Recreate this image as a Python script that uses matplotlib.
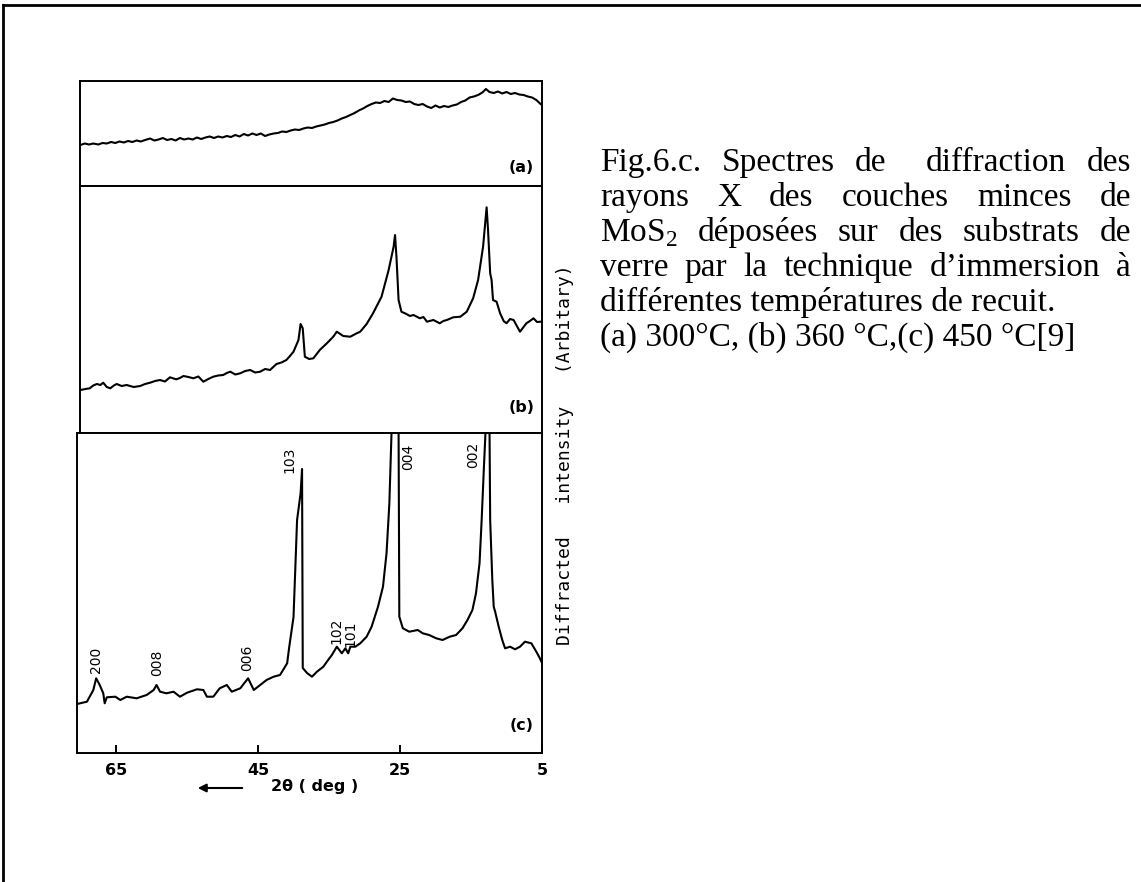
import matplotlib
matplotlib.use("Agg")
import matplotlib.pyplot as plt
from matplotlib.lines import Line2D
from matplotlib.patches import FancyArrowPatch

# --- DATA (2theta in deg, intensity in arbitrary units) ---
tt_a = [70.0, 69.4, 68.8, 68.2, 67.5, 66.9, 66.3, 65.7, 65.1, 64.5, 63.9, 63.3, 62.7, 62.1,
        61.5, 60.9, 60.2, 59.6, 59.0, 58.4, 57.8, 57.2, 56.6, 56.0, 55.4, 54.8, 54.2, 53.6,
        53.0, 52.4, 51.8, 51.2, 50.6, 50.0, 49.4, 48.8, 48.2, 47.6, 47.0, 46.4, 45.8, 45.2,
        44.6, 44.0, 43.4, 42.8, 42.2, 41.6, 41.0, 40.4, 39.8, 39.2, 38.6, 38.0, 37.4, 36.8,
        36.2, 35.6, 35.0, 34.4, 33.8, 33.2, 32.6, 32.0, 31.4, 30.8, 30.2, 29.6, 29.0, 28.4,
        27.8, 27.2, 26.6, 26.0, 25.4, 24.8, 24.2, 23.6, 23.0, 22.4, 21.8, 21.2, 20.6, 20.0,
        19.4, 18.8, 18.2, 17.6, 17.0, 16.4, 15.8, 15.2, 14.6, 14.0, 13.4, 12.9, 12.4, 11.8,
        11.2, 10.6, 10.0, 9.4, 8.8, 8.2, 7.6, 7.0, 6.4, 5.8, 5.2]
int_a = [41, 42.5, 41.5, 42.5, 41.5, 43, 42.5, 44, 43, 44.5, 43.5, 45, 44, 45.5,
         44.5, 46, 47.5, 45.5, 46.5, 48, 46, 47, 45.5, 48, 46.5, 47.5, 46.5, 48.5,
         47, 48.5, 49.5, 48, 49.5, 48.5, 50, 49, 51, 49.5, 52, 50.5, 52.5, 51,
         52.5, 50, 51.5, 52.5, 53, 54.5, 54, 55.5, 56.5, 56, 57.5, 58.5, 58, 59.5,
         60.5, 61.5, 63, 64, 65.5, 67.5, 69, 71, 73, 75.5, 77.5, 80, 82, 83.5,
         83, 85, 84, 87.5, 86, 85.5, 84, 84.5, 82, 81, 82, 79.5, 78, 80.5,
         78.5, 80, 79, 80.5, 81.5, 84, 85.5, 88.5, 89.5, 91, 93.5, 97, 94, 93,
         94.5, 92.5, 94, 92, 93, 91.5, 91, 89.5, 88.5, 86, 82]

tt_b = [70.0, 69.3, 68.7, 68.2, 67.7, 67.2, 66.8, 66.3, 65.8, 65.3, 64.9, 64.2, 63.5, 62.5,
        61.6, 60.9, 60.2, 59.5, 58.8, 58.1, 57.4, 56.9, 56.5, 56.0, 55.5, 54.8, 54.1, 53.4,
        52.7, 52.0, 51.3, 50.6, 49.9, 49.4, 48.9, 48.2, 47.5, 46.8, 46.1, 45.4, 44.7, 44.0,
        43.3, 42.4, 41.7, 41.0, 40.5, 40.0, 39.3, 39.0, 38.7, 38.4, 37.8, 37.2, 36.3, 35.3,
        34.4, 33.9, 33.0, 32.0, 31.1, 30.6, 29.7, 28.8, 27.6, 26.6, 25.9, 25.7, 25.5, 25.2,
        24.8, 24.1, 23.6, 23.1, 22.2, 21.7, 21.2, 20.3, 19.4, 18.9, 18.4, 17.5, 16.5, 15.6,
        14.7, 14.0, 13.3, 12.8, 12.6, 12.3, 12.1, 11.9, 11.4, 10.9, 10.4, 10.0, 9.5, 9.0,
        8.1, 7.6, 7.2, 6.7, 6.2, 5.7, 5.2]
int_b = [43, 44, 44.7, 47.5, 49, 48, 50.3, 46, 44.7, 47.5, 49, 47, 48, 46,
         47, 49, 50.3, 52, 53, 51.5, 55.7, 54.5, 53.7, 55, 57, 56, 54.7, 56.5,
         51.3, 54, 56.3, 57.5, 58, 60, 61.3, 58.5, 59.7, 62, 63, 60.5, 61.3, 64,
         63, 69, 70.5, 73, 77, 81.3, 93, 109, 104.7, 76.3, 74, 74.7, 83, 89.7,
         96.3, 101.3, 97, 96.3, 99.7, 101.3, 109, 119.7, 136.3, 163, 186.3, 198, 176.3, 133,
         121.3, 119, 117, 118, 114.7, 116, 111.3, 113, 109.7, 112, 113, 115.7, 116.3, 121.3,
         134.7, 153, 186.3, 225.7, 203, 159.7, 153, 133, 131.3, 119.7, 112, 109.7, 114, 113,
         101.3, 106, 109.7, 112, 114.7, 111, 111.3]

tt_c = [70.5, 69.1, 68.2, 67.8, 67.3, 66.8, 66.6, 66.3, 65.1, 64.4, 63.5, 62.1, 60.7, 59.7,
        59.3, 58.8, 57.9, 56.9, 56.0, 55.0, 53.6, 52.7, 52.2, 51.3, 50.4, 49.4, 48.7, 47.5,
        46.4, 45.6, 44.7, 43.8, 42.8, 41.9, 40.9, 40.6, 40.0, 39.5, 39.0, 38.8, 38.7, 38.1,
        37.4, 36.7, 35.8, 35.3, 34.6, 33.9, 33.2, 32.7, 32.3, 32.0, 31.3, 30.6, 29.7, 29.0,
        28.1, 27.4, 26.9, 26.5, 26.2, 26.0, 25.3, 25.2, 25.1, 24.6, 23.7, 22.5, 21.8, 20.9,
        19.9, 19.0, 18.0, 17.1, 16.2, 15.5, 14.8, 14.3, 13.8, 13.5, 13.2, 12.9, 12.8, 12.5,
        12.4, 12.3, 12.0, 11.8, 11.6, 11.1, 10.6, 10.2, 9.5, 8.8, 8.1, 7.4, 6.5, 5.8,
        5.3, 5.0]
int_c = [49, 51.3, 63, 74.7, 68, 59.7, 49.7, 55.7, 56.3, 53, 56.3, 54.7, 58, 63,
         68, 61.3, 59.7, 61.3, 56.3, 60.3, 63.7, 63, 56.3, 56.3, 64.7, 68, 61.3, 64.7,
         74.7, 63, 68, 73, 76.3, 78, 89.7, 106.3, 136, 233, 260, 284, 85, 80,
         76.3, 81.3, 86.3, 91.3, 98, 106.3, 99.7, 104.7, 99.7, 106.3, 106.3, 109.7, 116.3, 126.3,
         146.3, 166.3, 199.7, 249.7, 319.7, 400, 400, 320, 136.3, 124.7, 121.3, 123, 119.7, 118,
         114.7, 113, 116.3, 118, 124.7, 133, 143, 159.7, 189.7, 233, 283, 330, 400, 400,
         330, 233, 173, 146.3, 141.3, 126.3, 113, 104.7, 106.3, 103.7, 106.3, 111.3, 109.7, 101.3,
         94.7, 90]

peak_labels = ['200', '008', '006', '103', '102', '101', '004', '002']
peak_tt = [67.8, 59.2, 46.5, 40.6, 33.9, 32.0, 23.9, 14.7]
peak_int = [93, 90, 95, 293, 122, 119, 296, 298]

xticks = [65, 45, 25, 5]

caption_lines = [
    "Fig.6.c. Spectres de  diffraction des",
    "rayons X des couches minces de",
    "MoS$_2$ déposées sur des substrats de",
    "verre par la technique d’immersion à",
    "différentes températures de recuit.",
    "(a) 300°C, (b) 360 °C,(c) 450 °C[9]",
]
justify = [True, True, True, True, False, False]

plt.rcParams['mathtext.fontset'] = 'custom'
plt.rcParams['mathtext.rm'] = 'Liberation Serif'

W, H = 1141, 882
fig = plt.figure(figsize=(W / 100, H / 100), dpi=100)


def px_axes(left, top, right, bottom):
    return fig.add_axes([left / W, 1 - bottom / H, (right - left) / W, (bottom - top) / H])


ax_a = px_axes(80, 81, 542, 186)
ax_b = px_axes(80, 186, 542, 433)
ax_c = px_axes(77, 433, 542, 753)

for ax, tt, it, ymax, lab, lab_y in [(ax_a, tt_a, int_a, 105, '(a)', 19),
                                     (ax_b, tt_b, int_b, 247, '(b)', 26),
                                     (ax_c, tt_c, int_c, 320, '(c)', 28)]:
    ax.plot(tt, it, color='black', lw=1.5)
    ax.set_ylim(0, ymax)
    ax.set_yticks([])
    for s in ax.spines.values():
        s.set_linewidth(1.4)
    ax.text(7.9, lab_y, lab, fontsize=11.5, fontweight='bold', ha='center', va='center')

ax_a.set_xlim(70.07, 5)
ax_b.set_xlim(70.07, 5)
ax_a.set_xticks([])
ax_b.set_xticks([])

ax_c.set_xlim(70.5, 5)
ax_c.set_xticks(xticks)
ax_c.set_xticklabels([str(t) for t in xticks], fontweight='bold')
ax_c.tick_params(axis='x', direction='in', length=6, width=1.4, labelsize=11.5, pad=7)

for lab, x, y in zip(peak_labels, peak_tt, peak_int):
    ax_c.text(x, y, lab, rotation=90, fontsize=10, ha='center', va='center')

# x label with arrow
fig.text(315 / W, 1 - 786 / H, '2θ ( deg )', fontsize=11.5, fontweight='bold',
         ha='center', va='center')
fig.add_artist(FancyArrowPatch(
    (245 / W, 1 - 788 / H), (195 / W, 1 - 788 / H), transform=fig.transFigure,
    arrowstyle='-|>', mutation_scale=12, lw=1.5, color='black'))

# y label
fig.text(565 / W, 1 - 455 / H, 'Diffracted   intensity   (Arbitary)', rotation=90,
         family='DejaVu Sans Mono', fontsize=13, ha='center', va='center')

# outer frame (top and left only)
fig.add_artist(Line2D([3 / W, 1], [1 - 5 / H, 1 - 5 / H], transform=fig.transFigure,
                      color='black', lw=2))
fig.add_artist(Line2D([3 / W, 3 / W], [0, 1 - 5 / H], transform=fig.transFigure,
                      color='black', lw=2))

# caption, justified like the document text
renderer = fig.canvas.get_renderer()
x0, x1 = 600, 1131
cap_font = dict(family='Liberation Serif', fontsize=24, va='baseline')
for i, (line, just) in enumerate(zip(caption_lines, justify)):
    yb = 1 - (171 + 35 * i) / H
    if not just:
        fig.text(x0 / W, yb, line, ha='left', **cap_font)
        continue
    tokens = line.split(' ')
    words, spaces = [], []
    n = 0
    for t in tokens:
        if t == '':
            n += 1
            continue
        if words:
            spaces.append(n)
        words.append(t)
        n = 1
    arts = [fig.text(0, yb, w, ha='left', **cap_font) for w in words]
    widths = [a.get_window_extent(renderer).width for a in arts]
    unit = (x1 - x0 - sum(widths)) / sum(spaces)
    x = x0
    for k, (a, w) in enumerate(zip(arts, widths)):
        a.set_x(x / W)
        if k < len(spaces):
            x += w + unit * spaces[k]

fig.savefig('out.png', dpi=100)
